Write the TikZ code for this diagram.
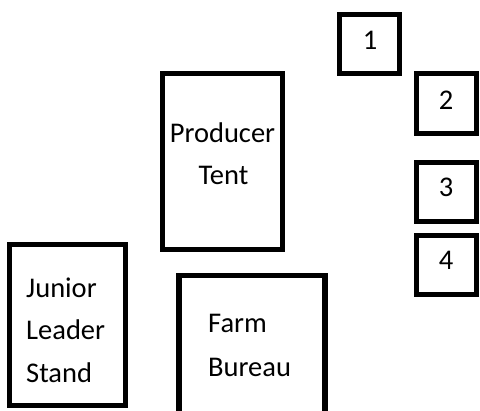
\documentclass[tikz,border=0pt]{standalone}
\usepackage{fontspec}
\setmainfont{Carlito}
\begin{document}
\begin{tikzpicture}[x=1pt,y=-1pt,
  booth/.style={draw=black, line width=5.5pt, fill=white, rectangle, inner sep=0pt, outer sep=0pt},
  lbl/.style={font=\fontsize{28.5}{42}\selectfont, inner sep=0pt, anchor=base},
  lbll/.style={font=\fontsize{28.5}{42}\selectfont, inner sep=0pt, anchor=base west}]
\useasboundingbox (0,0) rectangle (480,411);
\clip (0,0) rectangle (480,411);
% numbered booths
\node[booth, minimum width=60pt, minimum height=59pt] (b1) at (369.5,44) {};
\node[booth, minimum width=60pt, minimum height=60pt] (b2) at (446.5,103.5) {};
\node[booth, minimum width=60pt, minimum height=59pt] (b3) at (446.5,192) {};
\node[booth, minimum width=60pt, minimum height=59pt] (b4) at (446.5,265) {};
\node[lbl] (t1) at (370,50) {1};
\node[lbl] (t2) at (446,110) {2};
\node[lbl] (t3) at (446,197) {3};
\node[lbl] (t4) at (446,270) {4};
% producer tent
\node[booth, minimum width=120pt, minimum height=176pt] (prod) at (222.5,161.5) {};
\node[lbl] (tp1) at (222.5,143) {Producer};
\node[lbl] (tp2) at (223.5,185) {Tent};
% junior leader stand
\node[booth, minimum width=116pt, minimum height=161pt] (jun) at (67.5,325) {};
\node[lbll] (tj1) at (26,298) {Junior};
\node[lbll] (tj2) at (26,340) {Leader};
\node[lbll] (tj3) at (26,383) {Stand};
% farm bureau (runs off the bottom edge)
\node[booth, minimum width=146pt, minimum height=160pt] (farm) at (252,355.5) {};
\node[lbll] (tf1) at (208,333) {Farm};
\node[lbll] (tf2) at (208,377) {Bureau};
\end{tikzpicture}
\end{document}
